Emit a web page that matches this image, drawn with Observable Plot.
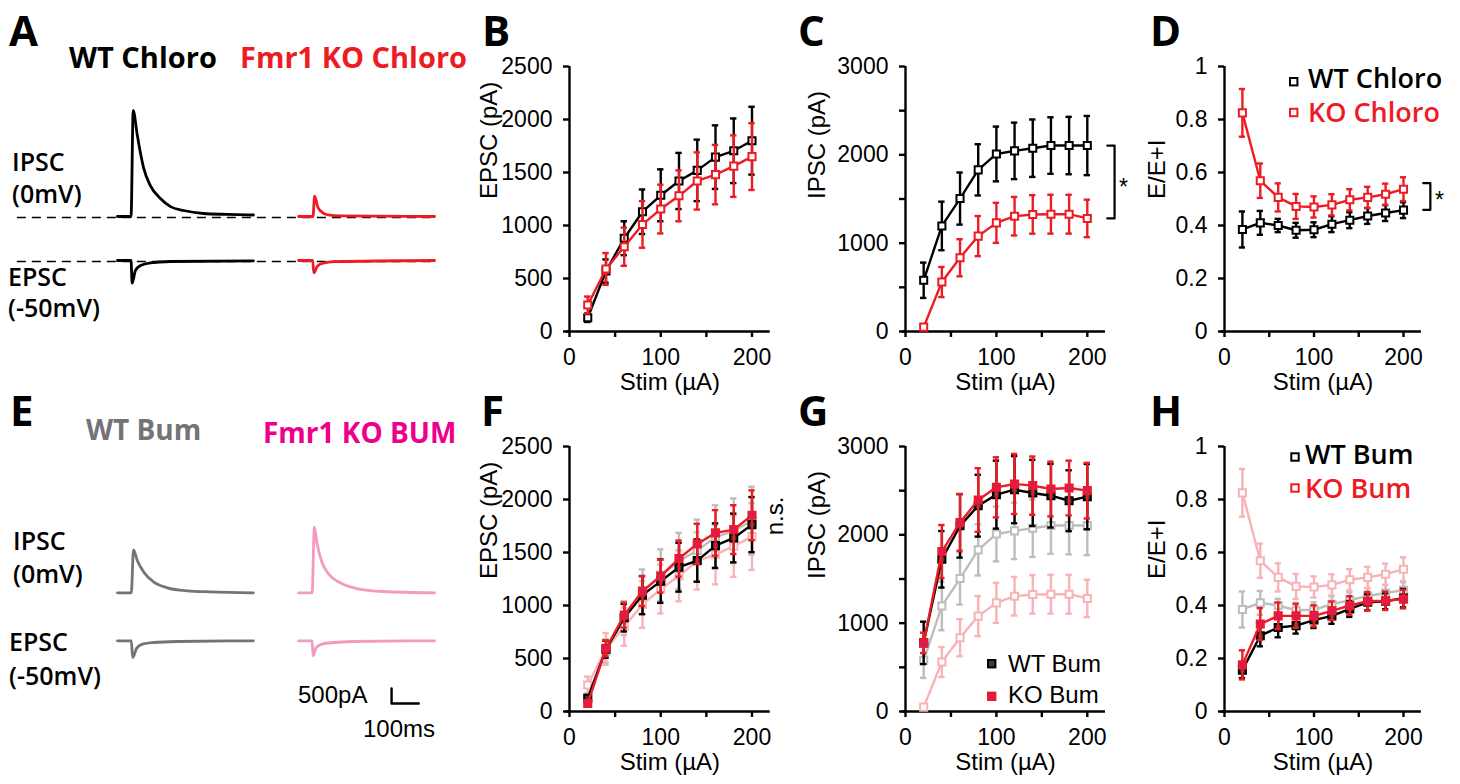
<!DOCTYPE html>
<html><head><meta charset="utf-8">
<script src="https://cdn.jsdelivr.net/npm/d3@7"></script>
<script src="https://cdn.jsdelivr.net/npm/@observablehq/plot@0.6"></script>
<style>
html,body{margin:0;padding:0;background:#fff;}
#fig{position:relative;width:1460px;height:784px;overflow:hidden;background:#fff;}
</style></head><body><div id="fig"></div>
<script>
// ---------- data ----------
const stim = [20, 40, 60, 80, 100, 120, 140, 160, 180, 200];

const epscWtChloro    = [130, 570, 880, 1130, 1285, 1420, 1520, 1645, 1705, 1800];
const epscWtChloroErr = [40, 110, 160, 210, 245, 265, 290, 300, 305, 320];
const epscKoChloro    = [250, 590, 800, 1010, 1155, 1280, 1420, 1480, 1560, 1650];
const epscKoChloroErr = [80, 150, 180, 220, 230, 240, 270, 280, 290, 315];

const ipscWtChloro    = [580, 1195, 1505, 1830, 2010, 2045, 2075, 2105, 2105, 2105];
const ipscWtChloroErr = [200, 275, 295, 290, 310, 320, 325, 320, 325, 335];
const ipscKoChloro    = [50, 560, 835, 1080, 1230, 1305, 1325, 1328, 1328, 1280];
const ipscKoChloroErr = [0, 170, 210, 227, 227, 218, 218, 220, 220, 212];

const eeiWtChloro    = [0.385, 0.41, 0.40, 0.382, 0.384, 0.405, 0.42, 0.436, 0.447, 0.458];
const eeiWtChloroErr = [0.068, 0.045, 0.025, 0.028, 0.028, 0.03, 0.03, 0.03, 0.03, 0.03];
const eeiKoChloro    = [0.825, 0.569, 0.506, 0.472, 0.47, 0.478, 0.497, 0.506, 0.518, 0.537];
const eeiKoChloroErr = [0.09, 0.065, 0.053, 0.047, 0.04, 0.04, 0.04, 0.04, 0.04, 0.045];

const epscWtBum    = [125, 587, 885, 1098, 1230, 1361, 1424, 1565, 1637, 1763];
const epscWtBumErr = [30, 80, 130, 180, 205, 230, 200, 210, 230, 260];
const epscKoBum    = [75, 596, 910, 1136, 1277, 1443, 1581, 1685, 1716, 1851];
const epscKoBumErr = [20, 75, 118, 140, 155, 170, 190, 215, 230, 235];

const ipscWtBum    = [777, 1723, 2102, 2330, 2455, 2511, 2474, 2443, 2386, 2432];
const ipscWtBumErr = [240, 320, 360, 350, 385, 380, 375, 360, 345, 370];
const ipscKoBum    = [777, 1811, 2140, 2394, 2538, 2576, 2557, 2519, 2530, 2500];
const ipscKoBumErr = [115, 300, 320, 360, 340, 340, 330, 310, 310, 315];

const eeiWtBum    = [0.156, 0.286, 0.317, 0.324, 0.345, 0.361, 0.387, 0.412, 0.416, 0.428];
const eeiWtBumErr = [0.03, 0.04, 0.037, 0.03, 0.03, 0.03, 0.03, 0.03, 0.03, 0.035];
const eeiKoBum    = [0.176, 0.33, 0.361, 0.361, 0.361, 0.38, 0.40, 0.416, 0.418, 0.424];
const eeiKoBumErr = [0.055, 0.06, 0.05, 0.045, 0.04, 0.035, 0.035, 0.035, 0.035, 0.035];

// tick values
const xTicks = [0, 50, 100, 150, 200];
const epscTicks = [0, 500, 1000, 1500, 2000, 2500];
const ipscTicks = [0, 1000, 2000, 3000];
const ipscMinorTicks = [500, 1500, 2500];
const eeiTicks = [0, 0.2, 0.4, 0.6, 0.8, 1];

// significance brackets (value ranges)
const bracketC = [1280, 2105];
const bracketD = [0.459, 0.56];

// example traces: time (ms), current (pA)
const wtChloroIpscT = [0, 50, 58, 72, 85, 96, 121, 158, 195, 243, 316, 404, 500];
const wtChloroIpscI = [0, 0, 3530, 2770, 2100, 1630, 1030, 600, 330, 200, 100, 70, 50];
const wtChloroEpscT = [0, 50, 54, 66, 85, 121, 195, 500];
const wtChloroEpscI = [0, 0, -757, -333, -167, -77, -33, -10];
const koChloroIpscT = [0, 53, 59, 71, 83, 108, 157, 500];
const koChloroIpscI = [0, 0, 680, 310, 167, 53, 20, 0];
const koChloroEpscT = [0, 52, 56, 69, 90, 132, 500];
const koChloroEpscI = [0, 0, -413, -190, -90, -40, 0];
const wtBumIpscT = [0, 51, 59, 73, 97, 134, 183, 256, 343, 500];
const wtBumIpscI = [0, 0, 1433, 1077, 687, 353, 167, 67, 33, 0];
const wtBumEpscT = [0, 51, 56, 71, 92, 134, 220, 500];
const wtBumEpscI = [0, 0, -557, -243, -110, -57, -23, 0];
const koBumIpscT = [0, 50, 58, 68, 86, 110, 153, 214, 312, 500];
const koBumIpscI = [0, 0, 2187, 1633, 1020, 633, 333, 143, 43, 0];
const koBumEpscT = [0, 50, 53, 65, 86, 129, 202, 500];
const koBumEpscI = [0, 0, -500, -223, -110, -57, -23, 0];

const scaleBarMs = 100, scaleBarPa = 500;

// ---------- styles ----------
const RED = "#ed1c24", BLACK = "#000", FADE_GRAY = "#bdbdbd", FADE_PINK = "#f7b3b6";
const WT_BUM_TRACE = "#737477", KO_BUM_TRACE = "#f49ac1", MAGENTA = "#ec008c";
const AR = "'Liberation Sans', Arial, sans-serif";
const OS = "'Open Sans', sans-serif";

const fig = document.getElementById("fig");
function place(node, left, top) {
  node.style.position = "absolute";
  node.style.left = left + "px";
  node.style.top = top + "px";
  fig.appendChild(node);
}

const rows = (m, e) => stim.map((s, i) => ({s, v: m[i], lo: m[i] - e[i], hi: m[i] + e[i]}));

function series(m, e, stroke, fill) {
  const d = rows(m, e);
  return [
    Plot.ruleX(d, {x: "s", y1: "lo", y2: "hi", stroke, strokeWidth: 2.4}),
    Plot.ruleY(d, {y: "hi", x1: r => r.s - 3.5, x2: r => r.s + 3.5, stroke, strokeWidth: 2.4}),
    Plot.ruleY(d, {y: "lo", x1: r => r.s - 3.5, x2: r => r.s + 3.5, stroke, strokeWidth: 2.4}),
    Plot.line(d, {x: "s", y: "v", stroke, strokeWidth: 2.4}),
    Plot.dot(d, {x: "s", y: "v", symbol: "square", r: 4, fill, stroke, strokeWidth: 2})
  ];
}

function chart({left, top, width, ml, pxPerUnit, yDomain, yTicks, yMinor, yLabel, ylDx, marks}) {
  const mr = width - ml - pxPerUnit * 220;
  const axisMarks = [
    Plot.axisY({ticks: yTicks, tickFormat: d => String(d), tickSize: 6, tickPadding: 11, strokeWidth: 2.4, label: null}),
    Plot.axisX({ticks: xTicks, tickFormat: d => d % 100 === 0 ? String(d) : "",
                tickSize: 6, tickPadding: 11, strokeWidth: 2.4, label: null}),
    Plot.ruleX([0], {strokeWidth: 2.4}),
    Plot.ruleY([0], {x1: () => -4, x2: () => 220, strokeWidth: 2.4}),
    Plot.text([yLabel], {text: d => d, frameAnchor: "left", dx: ylDx, rotate: -90, fontSize: 24}),
    Plot.text(["Stim (\u00b5A)"], {text: d => d, frameAnchor: "bottom", dy: 58, fontSize: 24})
  ];
  if (yMinor) axisMarks.push(Plot.axisY({ticks: yMinor, tickSize: 6, tickFormat: () => "", strokeWidth: 2.4, label: null}));
  const svg = Plot.plot({
    width, height: 400,
    marginLeft: ml, marginRight: mr, marginTop: 66, marginBottom: 69,
    x: {domain: [0, 220]},
    y: {domain: yDomain},
    style: {fontFamily: AR, fontSize: "23px", color: "black", background: "transparent", overflow: "visible"},
    marks: [...axisMarks, ...marks]
  });
  place(svg, left, top);
}

function bracket(x1, x2, range) {
  const pts = [{x: x1, y: range[1]}, {x: x2, y: range[1]}, {x: x2, y: range[0]}, {x: x1, y: range[0]}];
  return Plot.line(pts, {x: "x", y: "y", stroke: "black", strokeWidth: 2.2});
}

// ---------- row 1 ----------
chart({left: 480, top: 0, width: 310, ml: 89, pxPerUnit: 0.9125, yDomain: [0, 2500],
  yTicks: epscTicks, yLabel: "EPSC (pA)", ylDx: -80,
  marks: [...series(epscWtChloro, epscWtChloroErr, BLACK, "white"), ...series(epscKoChloro, epscKoChloroErr, RED, "white")]});
chart({left: 800, top: 0, width: 340, ml: 105, pxPerUnit: 0.909, yDomain: [0, 3000],
  yTicks: ipscTicks, yMinor: ipscMinorTicks, yLabel: "IPSC (pA)", ylDx: -88,
  marks: [...series(ipscWtChloro, ipscWtChloroErr, BLACK, "white"), ...series(ipscKoChloro, ipscKoChloroErr, RED, "white"),
          bracket(222, 230, bracketC)]});
chart({left: 1130, top: 0, width: 330, ml: 94, pxPerUnit: 0.895, yDomain: [0, 1],
  yTicks: eeiTicks, yLabel: "E/E+I", ylDx: -67,
  marks: [...series(eeiWtChloro, eeiWtChloroErr, BLACK, "white"), ...series(eeiKoChloro, eeiKoChloroErr, RED, "white"),
          bracket(222, 230, bracketD)]});

// ---------- row 2 ----------
chart({left: 480, top: 380, width: 310, ml: 89, pxPerUnit: 0.9125, yDomain: [0, 2500],
  yTicks: epscTicks, yLabel: "EPSC (pA)", ylDx: -80,
  marks: [...series(epscWtChloro, epscWtChloroErr, FADE_GRAY, "white"), ...series(epscKoChloro, epscKoChloroErr, FADE_PINK, "white"),
          ...series(epscWtBum, epscWtBumErr, BLACK, "#3a3a3a"), ...series(epscKoBum, epscKoBumErr, RED, "#d81b60")]});
chart({left: 800, top: 380, width: 340, ml: 105, pxPerUnit: 0.909, yDomain: [0, 3000],
  yTicks: ipscTicks, yMinor: ipscMinorTicks, yLabel: "IPSC (pA)", ylDx: -88,
  marks: [...series(ipscWtChloro, ipscWtChloroErr, FADE_GRAY, "white"), ...series(ipscKoChloro, ipscKoChloroErr, FADE_PINK, "white"),
          ...series(ipscWtBum, ipscWtBumErr, BLACK, "#3a3a3a"), ...series(ipscKoBum, ipscKoBumErr, RED, "#d81b60")]});
chart({left: 1130, top: 380, width: 330, ml: 94, pxPerUnit: 0.895, yDomain: [0, 1],
  yTicks: eeiTicks, yLabel: "E/E+I", ylDx: -67,
  marks: [...series(eeiWtChloro, eeiWtChloroErr, FADE_GRAY, "white"), ...series(eeiKoChloro, eeiKoChloroErr, FADE_PINK, "white"),
          ...series(eeiWtBum, eeiWtBumErr, BLACK, "#3a3a3a"), ...series(eeiKoBum, eeiKoBumErr, RED, "#d81b60")]});

// ---------- trace panels ----------
const KO_OFFSET = 666;
const tr = (T, I, off) => T.map((t, i) => ({t: t + off, i: I[i]}));
function tracePanel({top, height, yDomain, epscDy, wtI, wtE, koI, koE, wtColor, koColor, dashed, extra}) {
  const lw = 2.8;
  const marks = [];
  if (dashed) {
    for (const dy of [1, epscDy + 1]) {
      marks.push(Plot.ruleY([0], {x1: () => -368, x2: () => 1169, dy, stroke: "black", strokeWidth: 1.6, strokeDasharray: "9,6"}));
    }
  }
  marks.push(
    Plot.line(tr(wtI[0], wtI[1], 0), {x: "t", y: "i", stroke: wtColor, strokeWidth: lw, curve: "monotone-x"}),
    Plot.line(tr(wtE[0], wtE[1], 0), {x: "t", y: "i", dy: epscDy, stroke: wtColor, strokeWidth: lw, curve: "monotone-x"}),
    Plot.line(tr(koI[0], koI[1], KO_OFFSET), {x: "t", y: "i", stroke: koColor, strokeWidth: lw, curve: "monotone-x"}),
    Plot.line(tr(koE[0], koE[1], KO_OFFSET), {x: "t", y: "i", dy: epscDy, stroke: koColor, strokeWidth: lw, curve: "monotone-x"}),
    ...(extra || [])
  );
  const svg = Plot.plot({
    width: 480, height, margin: 0,
    x: {domain: [-430, 1335], axis: null},
    y: {domain: yDomain, axis: null},
    style: {background: "transparent", overflow: "visible"},
    marks
  });
  place(svg, 0, top);
}

tracePanel({top: 0, height: 340, yDomain: [-4133, 7200], epscDy: 44,
  wtI: [wtChloroIpscT, wtChloroIpscI], wtE: [wtChloroEpscT, wtChloroEpscI],
  koI: [koChloroIpscT, koChloroIpscI], koE: [koChloroEpscT, koChloroEpscI],
  wtColor: BLACK, koColor: RED, dashed: true});

const sbX = 1008, sbY = -3690;
tracePanel({top: 380, height: 400, yDomain: [-6257, 7077], epscDy: 48,
  wtI: [wtBumIpscT, wtBumIpscI], wtE: [wtBumEpscT, wtBumEpscI],
  koI: [koBumIpscT, koBumIpscI], koE: [koBumEpscT, koBumEpscI],
  wtColor: WT_BUM_TRACE, koColor: KO_BUM_TRACE, dashed: false,
  extra: [Plot.line([{t: sbX, i: sbY + scaleBarPa}, {t: sbX, i: sbY}, {t: sbX + scaleBarMs, i: sbY}],
                    {x: "t", y: "i", stroke: "black", strokeWidth: 2.4})]});

// ---------- text overlay ----------
const ov = d3.create("svg").attr("width", 1460).attr("height", 784)
  .style("position", "absolute").style("left", "0px").style("top", "0px").style("pointer-events", "none");
const texts = [
  ["A", 9, 46, 42, 700, BLACK, OS], ["B", 482, 46, 42, 700, BLACK, OS], ["C", 798, 46, 42, 700, BLACK, OS], ["D", 1150, 46, 42, 700, BLACK, OS],
  ["E", 10, 426, 42, 700, BLACK, OS], ["F", 481, 426, 42, 700, BLACK, OS], ["G", 798, 426, 42, 700, BLACK, OS], ["H", 1150, 426, 42, 700, BLACK, OS],
  ["WT Chloro", 69, 68, 29, 700, BLACK, OS], ["Fmr1 KO Chloro", 240, 68, 29, 700, RED, OS],
  ["WT Bum", 86, 440, 28, 700, WT_BUM_TRACE, OS], ["Fmr1 KO BUM", 263, 443, 28, 700, MAGENTA, OS],
  ["IPSC", 12, 170.5, 25, 600, BLACK, OS], ["(0mV)", 12, 203, 25, 600, BLACK, OS],
  ["EPSC", 8, 286, 25, 600, BLACK, OS], ["(-50mV)", 8, 317, 25, 600, BLACK, OS],
  ["IPSC", 13, 550, 25, 600, BLACK, OS], ["(0mV)", 13, 583, 25, 600, BLACK, OS],
  ["EPSC", 9, 651, 25, 600, BLACK, OS], ["(-50mV)", 9, 685, 25, 600, BLACK, OS],
  ["500pA", 298, 703, 24, 400, BLACK, AR], ["100ms", 363, 737, 24, 400, BLACK, AR],
  ["WT Chloro", 1308, 87.5, 27, 600, BLACK, OS], ["KO Chloro", 1308, 122, 27, 600, RED, OS],
  ["WT Bum", 1305, 464, 27, 600, BLACK, OS], ["KO Bum", 1305, 498, 27, 600, RED, OS],
  ["WT Bum", 1008, 672, 24, 400, BLACK, AR], ["KO Bum", 1008, 703, 24, 400, BLACK, AR],
  ["*", 1119, 195, 23, 400, BLACK, AR], ["*", 1435, 208, 23, 400, BLACK, AR]
];
for (const [s, x, y, size, w, c, f] of texts) {
  ov.append("text").attr("x", x).attr("y", y).attr("font-size", size).attr("font-weight", w)
    .attr("fill", c).attr("font-family", f).text(s);
}
ov.append("text").attr("transform", "translate(783,516) rotate(-90)").attr("text-anchor", "middle")
  .attr("font-size", 24).attr("font-family", AR).text("n.s.");
const squares = [
  [1293.7, 81.7, "white", BLACK], [1293.7, 112.5, "white", RED],
  [1295, 457, "white", BLACK], [1295, 488, "white", RED],
  [991.7, 663.7, "#3a3a3a", BLACK], [991.7, 696.3, "#d81b60", RED]
];
for (const [cx, cy, fill, stroke] of squares) {
  ov.append("rect").attr("x", cx - 3.7).attr("y", cy - 3.7).attr("width", 7.4).attr("height", 7.4)
    .attr("fill", fill).attr("stroke", stroke).attr("stroke-width", 2);
}
fig.appendChild(ov.node());
</script></body></html>
